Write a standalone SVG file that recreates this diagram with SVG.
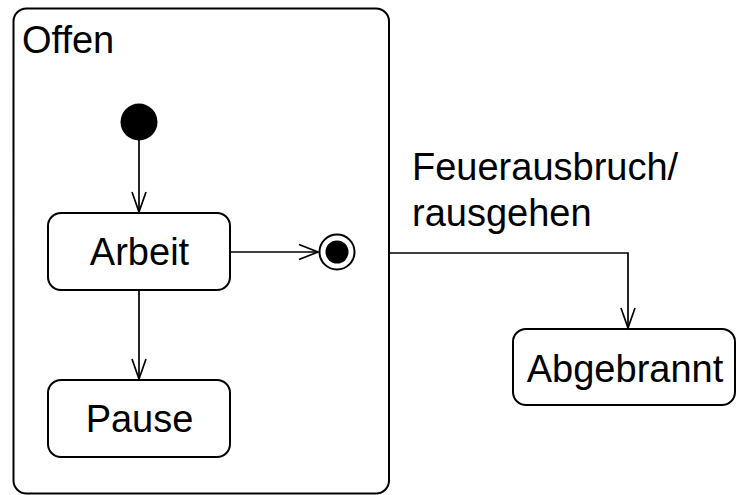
<svg xmlns="http://www.w3.org/2000/svg" width="736" height="495" viewBox="0 0 736 495">
<style>
.box{fill:#fff;stroke:#000;stroke-width:2}
.lbl{font-family:"Liberation Sans",Arial,sans-serif;font-size:38px;fill:#000}
.con{fill:none;stroke:#000;stroke-width:1.7}
.head{fill:none;stroke:#000;stroke-width:1.7}
</style>
<rect width="736" height="495" fill="#fff"/>
<g id="offen">
<rect class="box" x="13.5" y="8.5" width="375.5" height="485" rx="13"/>
<text class="lbl" x="22" y="53">Offen</text>
</g>
<g id="initial">
<circle cx="139" cy="122" r="18.5" fill="#000"/>
</g>
<g id="arbeit">
<rect class="box" x="48" y="213" width="182" height="77" rx="13"/>
<text class="lbl" x="139.5" y="265" text-anchor="middle">Arbeit</text>
</g>
<g id="pause">
<rect class="box" x="48" y="380" width="182" height="77" rx="13"/>
<text class="lbl" x="139.5" y="432" text-anchor="middle">Pause</text>
</g>
<g id="final">
<circle cx="337" cy="252" r="17.5" fill="#fff" stroke="#000" stroke-width="2"/>
<circle cx="337" cy="252" r="11.5" fill="#000"/>
</g>
<g id="abgebrannt">
<rect class="box" x="513" y="329" width="222" height="76" rx="13"/>
<text class="lbl" x="625" y="382" text-anchor="middle">Abgebrannt</text>
</g>
<g id="connectors">
<path class="con" d="M139 140 V212"/>
<path class="head" d="M132 192 L139 212 L146 192"/>
<path class="con" d="M230 252 H318"/>
<path class="head" d="M299 244.5 L318 252 L299 259.5"/>
<path class="con" d="M139 290 V379"/>
<path class="head" d="M132 359 L139 379 L146 359"/>
<path class="con" d="M389 253 H628 V328"/>
<path class="head" d="M621 308 L628 328 L635 308"/>
<text class="lbl" x="412" y="180">Feuerausbruch/</text>
<text class="lbl" x="412" y="226">rausgehen</text>
</g>
</svg>
